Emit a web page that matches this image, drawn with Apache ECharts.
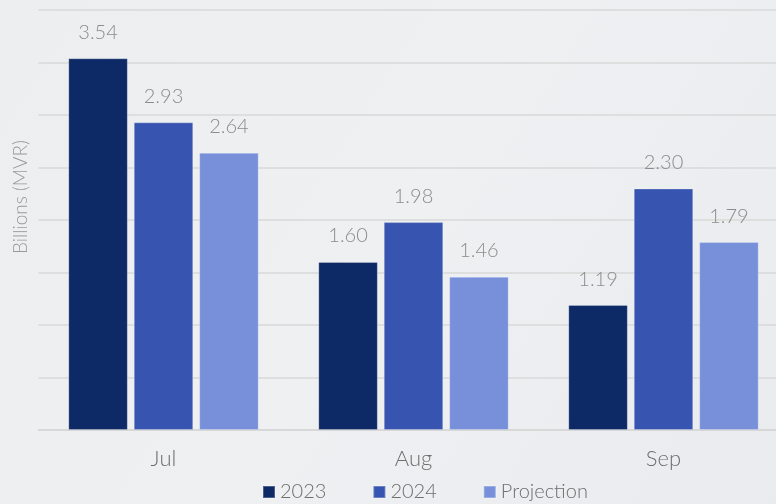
<!DOCTYPE html>
<html>
<head>
<meta charset="utf-8">
<script src="https://cdn.jsdelivr.net/npm/echarts@6/dist/echarts.min.js"></script>
<style>
html,body{margin:0;padding:0;background:#eceef0;overflow:hidden;width:776px;height:504px;}
#c{width:790px;height:504px;}
</style>
</head>
<body>
<div id="c"></div>
<script>
const categories = ['Jul', 'Aug', 'Sep'];
const seriesNames = ['2023', '2024', 'Projection'];
const values2023 = [3.54, 1.60, 1.19];
const values2024 = [2.93, 1.98, 2.30];
const valuesProjection = [2.64, 1.46, 1.79];
const colors = ['#0d2966', '#3755b0', '#7890da'];
const yAxisName = 'Billions (MVR)';

const chart = echarts.init(document.getElementById('c'));
const font = 'Lato, "Open Sans", sans-serif';
const mk = (name, data, color) => ({
  name, type: 'bar', data,
  barWidth: 59.5, barGap: '10%',
  itemStyle: { color, borderColor: 'rgba(255,255,255,0.25)', borderWidth: 1 },
  label: {
    show: true, position: 'top', distance: 16,
    formatter: p => p.value.toFixed(2),
    color: '#8c8c8c', fontSize: 20, fontFamily: font, fontWeight: 300
  }
});
chart.setOption({
  backgroundColor: {
    type: 'linear', x: 0, y: 0, x2: 1, y2: 1,
    colorStops: [{offset: 0, color: '#eceef0'}, {offset: 0.5, color: '#eef0f2'}, {offset: 1, color: '#e9ebee'}]
  },
  animation: false,
  grid: { left: 38.5, right: 1.5, top: 10, height: 420 },
  legend: {
    left: 257, top: 477, itemWidth: 12, itemHeight: 12, itemGap: 46,
    icon: 'rect',
    textStyle: { color: '#6e6e6e', fontSize: 20, fontFamily: font, fontWeight: 300 },
    data: seriesNames
  },
  xAxis: {
    type: 'category', data: categories,
    axisLine: { lineStyle: { color: '#d6d6d6', width: 1.5 } },
    axisTick: { show: false },
    axisLabel: { color: '#6e6e6e', fontSize: 22, fontFamily: font, fontWeight: 300, margin: 18 }
  },
  yAxis: {
    type: 'value', min: 0, max: 4, interval: 0.5,
    name: yAxisName, nameLocation: 'middle', nameGap: 8,
    nameTextStyle: { color: '#9a9a9a', fontSize: 19, fontFamily: font, fontWeight: 300, padding: [0, 0, 0, 46] },
    axisLabel: { show: false },
    axisLine: { show: false }, axisTick: { show: false },
    splitLine: { lineStyle: { color: '#d8d8d8', width: 1.5 } }
  },
  series: [
    mk(seriesNames[0], values2023, colors[0]),
    mk(seriesNames[1], values2024, colors[1]),
    mk(seriesNames[2], valuesProjection, colors[2])
  ]
});
</script>
</body>
</html>
